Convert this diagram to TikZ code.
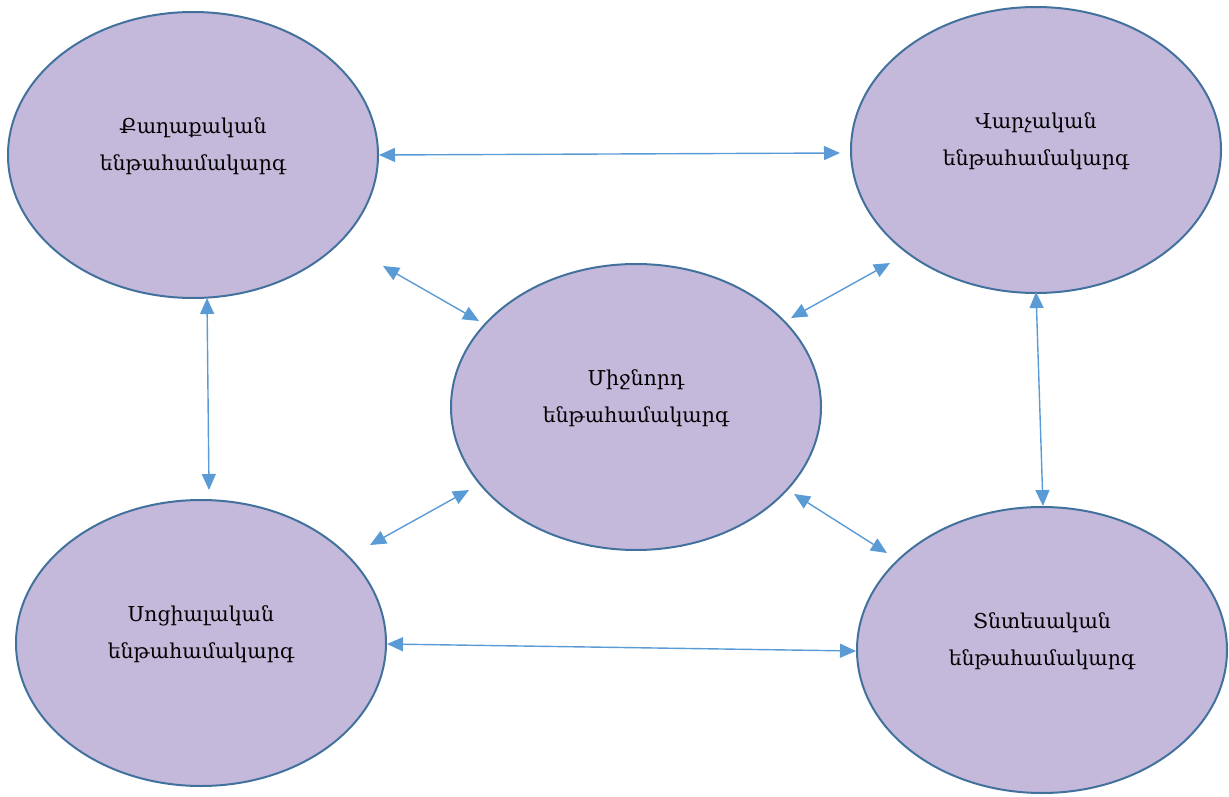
\documentclass[tikz,border=0pt]{standalone}
\usepackage{fontspec}
\setmainfont{DejaVu Serif}
\usetikzlibrary{arrows.meta,shapes.geometric}
\definecolor{efill}{HTML}{C5B9DB}
\definecolor{edraw}{HTML}{41719C}
\definecolor{arr}{HTML}{5B9BD5}
\tikzset{
  sub/.style={ellipse, draw=edraw, line width=2pt, fill=efill, minimum width=370pt, minimum height=286pt, inner sep=0pt},
  lbl/.style={align=center, font=\fontsize{20.5}{37}\selectfont, text=black},
  link/.style={draw=arr, line width=1.4pt, {Triangle[length=16pt,width=14pt]}-{Triangle[length=16pt,width=14pt]}}
}
\begin{document}
\begin{tikzpicture}[x=1pt,y=-1pt]
\useasboundingbox (0,0) rectangle (1229,797);
\node[sub] (pol) at (193,155) {};
\node[sub] (adm) at (1036,150) {};
\node[sub] (mid) at (636,407) {};
\node[sub] (soc) at (201,643) {};
\node[sub] (eco) at (1042,650) {};
\node[lbl] (tpol) at ([yshift=9pt]pol.center) {Քաղաքական\\ենթահամակարգ};
\node[lbl] (tadm) at ([yshift=9pt]adm.center) {Վարչական\\ենթահամակարգ};
\node[lbl] (tmid) at ([yshift=9pt]mid.center) {Միջնորդ\\ենթահամակարգ};
\node[lbl] (tsoc) at ([yshift=9pt]soc.center) {Սոցիալական\\ենթահամակարգ};
\node[lbl] (teco) at ([yshift=9pt]eco.center) {Տնտեսական\\ենթահամակարգ};
\coordinate (a1) at (379,155); \coordinate (a2) at (840,153);
\coordinate (b1) at (207,298); \coordinate (b2) at (209,490);
\coordinate (c1) at (1036,292); \coordinate (c2) at (1043,506);
\coordinate (d1) at (387,644); \coordinate (d2) at (856,651);
\coordinate (e1) at (383,266); \coordinate (e2) at (479,321);
\coordinate (f1) at (890,263); \coordinate (f2) at (791,318);
\coordinate (g1) at (370,545); \coordinate (g2) at (469,490);
\coordinate (h1) at (794,494); \coordinate (h2) at (887,553);
\draw[link] (a1) -- (a2);
\draw[link] (b1) -- (b2);
\draw[link] (c1) -- (c2);
\draw[link] (d1) -- (d2);
\draw[link] (e1) -- (e2);
\draw[link] (f1) -- (f2);
\draw[link] (g1) -- (g2);
\draw[link] (h1) -- (h2);
\end{tikzpicture}
\end{document}
